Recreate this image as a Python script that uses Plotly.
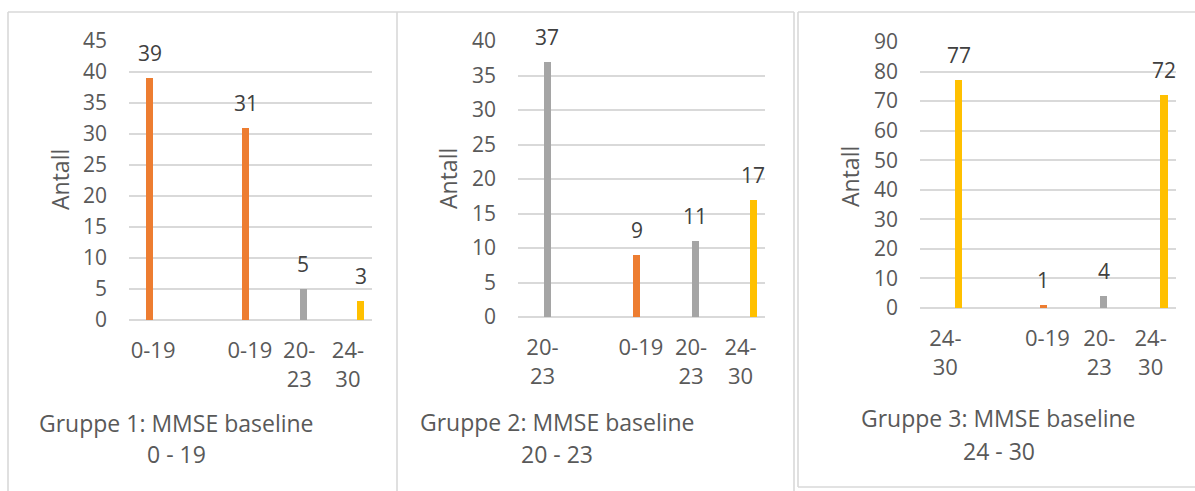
import plotly.graph_objects as go

# ---- data -------------------------------------------------------------
tick_labels_1 = ["0-19", "0-19", "20-23", "24-30"]
tick_labels_2 = ["20-23", "0-19", "20-23", "24-30"]
tick_labels_3 = ["24-30", "0-19", "20-23", "24-30"]

values_1 = [39, 31, 5, 3]
values_2 = [37, 9, 11, 17]
values_3 = [77, 1, 4, 72]

# MMSE class of each bar decides its colour
classes_1 = ["0-19", "0-19", "20-23", "24-30"]
classes_2 = ["20-23", "0-19", "20-23", "24-30"]
classes_3 = ["24-30", "0-19", "20-23", "24-30"]

titles = [
    ("Gruppe 1: MMSE baseline", "0 - 19"),
    ("Gruppe 2: MMSE baseline", "20 - 23"),
    ("Gruppe 3: MMSE baseline", "24 - 30"),
]
y_max = [45, 40, 90]
y_step = [5, 5, 10]

# ---- styling / layout ---------------------------------------------------
W, H = 1195, 491
COLORS = {"0-19": "#ED7D31", "20-23": "#A5A5A5", "24-30": "#FFC000"}
GRID = "#D9D9D9"
TICK_COLOR = "#595959"
LABEL_COLOR = "#404040"
FONT = "Open Sans"

# plot areas in pixels: (left, right, top, bottom)
areas = [(129, 372, 41, 320), (518, 765, 41, 317), (920, 1176, 42, 308)]
# slot positions along each x axis
x_range = [-1.04, 3.2]
first_bar = [-0.68, -0.54, -0.40]
tick_pos = [-0.62, 1.07, 1.93, 2.78]
bar_width = 0.12
antall_pos = [(60, 180), (448, 179), (850, 177)]
title_pos = [(176, 423, 454), (557, 422, 454), (999, 418, 451)]
# panel frame segments in pixels
frame_lines = [
    [(8, 12, 8, 491), (8, 12, 397, 12), (397, 12, 397, 491)],
    [(397, 12, 794, 12), (794, 12, 794, 491)],
    [(798, 12, 798, 487), (798, 12, 1195, 12), (798, 487, 1195, 487)],
]


def px(x):
    return x / W


def py(y):
    return 1 - y / H


panels = [
    (tick_labels_1, values_1, classes_1),
    (tick_labels_2, values_2, classes_2),
    (tick_labels_3, values_3, classes_3),
]

fig = go.Figure()
annotations = []
shapes = []

for i, (ticks, vals, cls) in enumerate(panels):
    n = i + 1
    xa = "x" if n == 1 else f"x{n}"
    ya = "y" if n == 1 else f"y{n}"
    bar_x = [first_bar[i]] + [float(k) for k in range(1, len(vals))]

    fig.add_trace(go.Bar(
        x=bar_x, y=vals, width=bar_width,
        marker=dict(color=[COLORS[c] for c in cls], line=dict(width=0)),
        xaxis=xa, yaxis=ya, showlegend=False, hoverinfo="y",
    ))

    for bx, v in zip(bar_x, vals):
        annotations.append(dict(
            x=bx, y=v, xref=xa, yref=ya, text=str(v), showarrow=False,
            yanchor="middle", yshift=25,
            font=dict(family=FONT, size=21, color=LABEL_COLOR),
        ))

    l, r, t, b = areas[i]
    ax_key = "xaxis" if n == 1 else f"xaxis{n}"
    ay_key = "yaxis" if n == 1 else f"yaxis{n}"
    fig.update_layout({
        ax_key: dict(
            domain=[px(l), px(r)], range=x_range, anchor=ya,
            tickmode="array", tickvals=tick_pos,
            ticktext=[s.replace("-", "-<br>") if len(s) > 4 else s for s in ticks],
            showgrid=False, zeroline=False, showline=False, ticks="",
            ticklabelstandoff=15, automargin=False,
            tickfont=dict(family=FONT, size=22, color=TICK_COLOR),
            fixedrange=True,
        ),
        ay_key: dict(
            domain=[py(b), py(t)], range=[0, y_max[i]], anchor=xa,
            tickmode="linear", tick0=0, dtick=y_step[i],
            showgrid=True, gridcolor=GRID, gridwidth=1.6,
            zeroline=True, zerolinecolor=GRID, zerolinewidth=1.6,
            showline=False, ticks="", ticklabelstandoff=21, automargin=False,
            tickfont=dict(family=FONT, size=21, color=TICK_COLOR),
            fixedrange=True,
        ),
    })

    ax_x, ax_y = antall_pos[i]
    annotations.append(dict(
        x=px(ax_x), y=py(ax_y), xref="paper", yref="paper", text="Antall",
        textangle=-90, showarrow=False, xanchor="center", yanchor="middle",
        font=dict(family=FONT, size=23, color=TICK_COLOR),
    ))

    tx, ty1, ty2 = title_pos[i]
    for line, ty in zip(titles[i], (ty1, ty2)):
        annotations.append(dict(
            x=px(tx), y=py(ty), xref="paper", yref="paper", text=line,
            showarrow=False, xanchor="center", yanchor="middle",
            font=dict(family=FONT, size=23, color=TICK_COLOR),
        ))

    for (x0, y0, x1, y1) in frame_lines[i]:
        shapes.append(dict(
            type="line", xref="paper", yref="paper",
            x0=px(x0), y0=py(y0), x1=px(x1), y1=py(y1),
            line=dict(color=GRID, width=1.6), layer="below",
        ))

fig.update_layout(
    width=W, height=H,
    margin=dict(l=0, r=0, t=0, b=0, pad=0, autoexpand=False),
    paper_bgcolor="white", plot_bgcolor="white",
    annotations=annotations, shapes=shapes,
    bargap=0, showlegend=False,
)

fig.write_html(
    "out.html",
    config={"displayModeBar": False},
    post_script="document.body.style.margin='0';",
)
